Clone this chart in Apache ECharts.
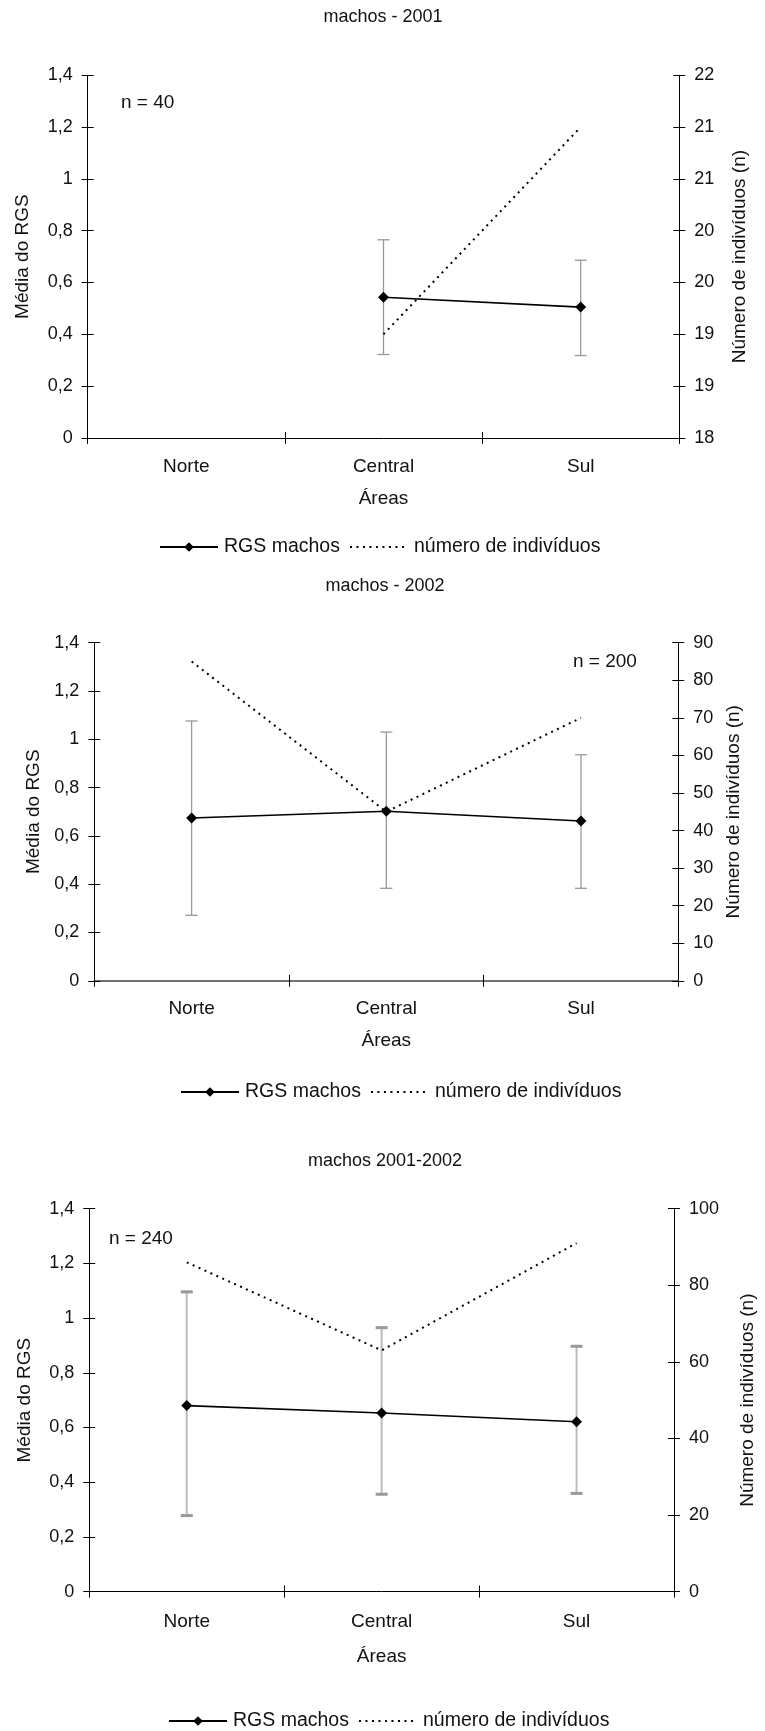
<!DOCTYPE html>
<html>
<head>
<meta charset="utf-8">
<script src="https://cdn.jsdelivr.net/npm/echarts@6/dist/echarts.min.js"></script>
<style>
html,body{margin:0;padding:0;background:#fff;}
#c{width:765px;height:1731px;}
</style>
</head>
<body>
<div id="c"></div>
<script>
// ---------- data ----------
const categories = ['Norte', 'Central', 'Sul'];
const chartTitles = ['machos - 2001', 'machos - 2002', 'machos 2001-2002'];
const nLabels = ['n = 40', 'n = 200', 'n = 240'];

const rgs2001 = [null, 0.543, 0.505];
const rgsLow2001 = [null, 0.322, 0.318];
const rgsHigh2001 = [null, 0.765, 0.686];
const num2001 = [null, 19, 21];

const rgs2002 = [0.674, 0.702, 0.662];
const rgsLow2002 = [0.271, 0.383, 0.383];
const rgsHigh2002 = [1.076, 1.030, 0.936];
const num2002 = [85, 45, 70];

const rgsAll = [0.680, 0.653, 0.621];
const rgsLowAll = [0.278, 0.356, 0.359];
const rgsHighAll = [1.096, 0.965, 0.897];
const numAll = [86, 63, 91];

const leftTicks = { min: 0, max: 1.4, interval: 0.2 };
const rightTicks2001 = { min: 18, max: 21.5, interval: 0.5 };
const rightTicks2002 = { min: 0, max: 90, interval: 10 };
const rightTicksAll = { min: 0, max: 100, interval: 20 };

// ---------- layout ----------
const FONT = '"Liberation Sans", Arial, Helvetica, sans-serif';
const panels = [
  { rgs: rgs2001, lo: rgsLow2001, hi: rgsHigh2001, num: num2001, right: rightTicks2001,
    grid: { left: 87.7, right: 765 - 679.3, top: 75.3, height: 362.6 },
    title: { x: 383, y: 17 }, nText: { x: 121, y: 103 },
    legendTop: 537, legendLeft: 159, leftNameGap: 55, rightNameGap: 51, xNameGap: 51, xLabelMargin: 19,
    errColor: '#999', errW: 1.3, capColor: '#999', capW: 1.3, xAxisColor: '#000' },
  { rgs: rgs2002, lo: rgsLow2002, hi: rgsHigh2002, num: num2002, right: rightTicks2002,
    grid: { left: 94.3, right: 765 - 678.3, top: 642.7, height: 338.1 },
    title: { x: 385, y: 586 }, nText: { x: 573, y: 662 },
    legendTop: 1082, legendLeft: 180, leftNameGap: 51, rightNameGap: 44, xNameGap: 50, xLabelMargin: 18,
    errColor: '#999', errW: 1.3, capColor: '#999', capW: 1.3, xAxisColor: '#444' },
  { rgs: rgsAll, lo: rgsLowAll, hi: rgsHighAll, num: numAll, right: rightTicksAll,
    grid: { left: 89.3, right: 765 - 686.7, top: 1208.7, height: 382.9 },
    title: { x: 385, y: 1161 }, nText: { x: 109, y: 1239 },
    legendTop: 1711, legendLeft: 168, leftNameGap: 55, rightNameGap: 64, xNameGap: 56, xLabelMargin: 21,
    errColor: '#bbb', errW: 2, capColor: '#999', capW: 3, xAxisColor: '#000' }
];

const grids = [], xAxes = [], yAxes = [], series = [], legends = [], graphics = [];
const commaFmt = v => String(Math.round(v * 10) / 10).replace('.', ',');

panels.forEach((p, g) => {
  grids.push(Object.assign({ containLabel: false }, p.grid));
  const xi = xAxes.length;
  xAxes.push({
    type: 'category', gridIndex: g, data: categories, boundaryGap: true,
    name: 'Áreas', nameLocation: 'middle', nameGap: p.xNameGap,
    nameTextStyle: { fontFamily: FONT, fontSize: 19, color: '#111' },
    axisLine: { lineStyle: { color: p.xAxisColor, width: g === 1 ? 1.5 : 1 } },
    axisTick: { show: true, length: 6, lineStyle: { color: '#000' } },
    axisLabel: { fontFamily: FONT, fontSize: 19, color: '#111', margin: p.xLabelMargin },
    splitLine: { show: false }
  });
  xAxes.push({
    type: 'category', gridIndex: g, data: categories, boundaryGap: true, position: 'bottom',
    axisLine: { show: false },
    axisTick: { show: true, inside: true, length: 6, lineStyle: { color: '#000' } },
    axisLabel: { show: false }, splitLine: { show: false }
  });
  const yi = yAxes.length;
  yAxes.push({
    type: 'value', gridIndex: g, position: 'left',
    min: leftTicks.min, max: leftTicks.max, interval: leftTicks.interval,
    name: 'Média do RGS', nameLocation: 'middle', nameGap: p.leftNameGap, nameRotate: 90,
    nameTextStyle: { fontFamily: FONT, fontSize: 19, color: '#111' },
    axisLine: { show: true, lineStyle: { color: '#000', width: 1 } },
    axisTick: { show: true, length: 6, lineStyle: { color: '#000' } },
    axisLabel: { fontFamily: FONT, fontSize: 18, color: '#111', margin: 15, formatter: commaFmt },
    splitLine: { show: false }
  });
  yAxes.push({
    type: 'value', gridIndex: g, position: 'right',
    min: p.right.min, max: p.right.max, interval: p.right.interval,
    name: 'Número de indivíduos (n)', nameLocation: 'middle', nameGap: p.rightNameGap, nameRotate: 90,
    nameTextStyle: { fontFamily: FONT, fontSize: 19, color: '#111' },
    axisLine: { show: true, lineStyle: { color: '#000', width: 1 } },
    axisTick: { show: true, length: 6, lineStyle: { color: '#000' } },
    axisLabel: { fontFamily: FONT, fontSize: 18, color: '#111', margin: 15, formatter: v => String(Math.round(v)) },
    splitLine: { show: false }
  });
  yAxes.push({
    type: 'value', gridIndex: g, position: 'left',
    min: leftTicks.min, max: leftTicks.max, interval: leftTicks.interval,
    axisLine: { show: false },
    axisTick: { show: true, inside: true, length: 6, lineStyle: { color: '#000' } },
    axisLabel: { show: false }, splitLine: { show: false }
  });
  yAxes.push({
    type: 'value', gridIndex: g, position: 'right',
    min: p.right.min, max: p.right.max, interval: p.right.interval,
    axisLine: { show: false },
    axisTick: { show: true, inside: true, length: 6, lineStyle: { color: '#000' } },
    axisLabel: { show: false }, splitLine: { show: false }
  });

  // error bars
  const errData = [];
  categories.forEach((c, i) => {
    if (p.lo[i] != null && p.hi[i] != null) errData.push([i, p.lo[i], p.hi[i]]);
  });
  const errColor = p.errColor, errW = p.errW, capColor = p.capColor, capW = p.capW;
  series.push({
    type: 'custom', name: 'erro', xAxisIndex: xi, yAxisIndex: yi, z: 1,
    data: errData,
    renderItem: function (params, api) {
      const x = api.value(0);
      const a = api.coord([x, api.value(1)]);
      const b = api.coord([x, api.value(2)]);
      const hw = 6;
      return {
        type: 'group',
        children: [
          { type: 'line', shape: { x1: a[0], y1: a[1], x2: b[0], y2: b[1] }, style: { stroke: errColor, lineWidth: errW } },
          { type: 'line', shape: { x1: a[0] - hw, y1: a[1], x2: a[0] + hw, y2: a[1] }, style: { stroke: capColor, lineWidth: capW } },
          { type: 'line', shape: { x1: b[0] - hw, y1: b[1], x2: b[0] + hw, y2: b[1] }, style: { stroke: capColor, lineWidth: capW } }
        ]
      };
    }
  });
  series.push({
    type: 'line', name: 'RGS machos', xAxisIndex: xi, yAxisIndex: yi, z: 3,
    data: p.rgs, connectNulls: false,
    symbol: 'diamond', symbolSize: 11, showSymbol: true,
    itemStyle: { color: '#000' },
    lineStyle: { color: '#000', width: 1.6 },
    emphasis: { disabled: true }
  });
  series.push({
    type: 'line', name: 'número de indivíduos', xAxisIndex: xi, yAxisIndex: yi + 1, z: 2,
    data: p.num, symbol: 'none',
    itemStyle: { color: '#000' },
    lineStyle: { color: '#000', width: 2, type: [2, 4.5] },
    emphasis: { disabled: true }
  });

  legends.push({
    data: [
      { name: 'RGS machos' },
      { name: 'número de indivíduos', itemStyle: { opacity: 0 } }
    ],
    left: p.legendLeft, top: p.legendTop, orient: 'horizontal', padding: 0,
    itemWidth: 58, itemHeight: 12, itemGap: 9, selectedMode: false,
    textStyle: { fontFamily: FONT, fontSize: 19.5, color: '#111', padding: [0, 0, 0, 1] }
  });

  graphics.push({
    type: 'text', x: p.title.x, y: p.title.y,
    style: { text: chartTitles[g], font: '18px ' + FONT, fill: '#111', textAlign: 'center', textVerticalAlign: 'middle' }
  });
  graphics.push({
    type: 'text', x: p.nText.x, y: p.nText.y,
    style: { text: nLabels[g], font: '19px ' + FONT, fill: '#111', textAlign: 'left', textVerticalAlign: 'middle' }
  });
});

const chart = echarts.init(document.getElementById('c'), null, { renderer: 'canvas' });
chart.setOption({
  animation: false,
  backgroundColor: '#fff',
  grid: grids,
  xAxis: xAxes,
  yAxis: yAxes,
  legend: legends,
  graphic: graphics,
  series: series
});
</script>
</body>
</html>
